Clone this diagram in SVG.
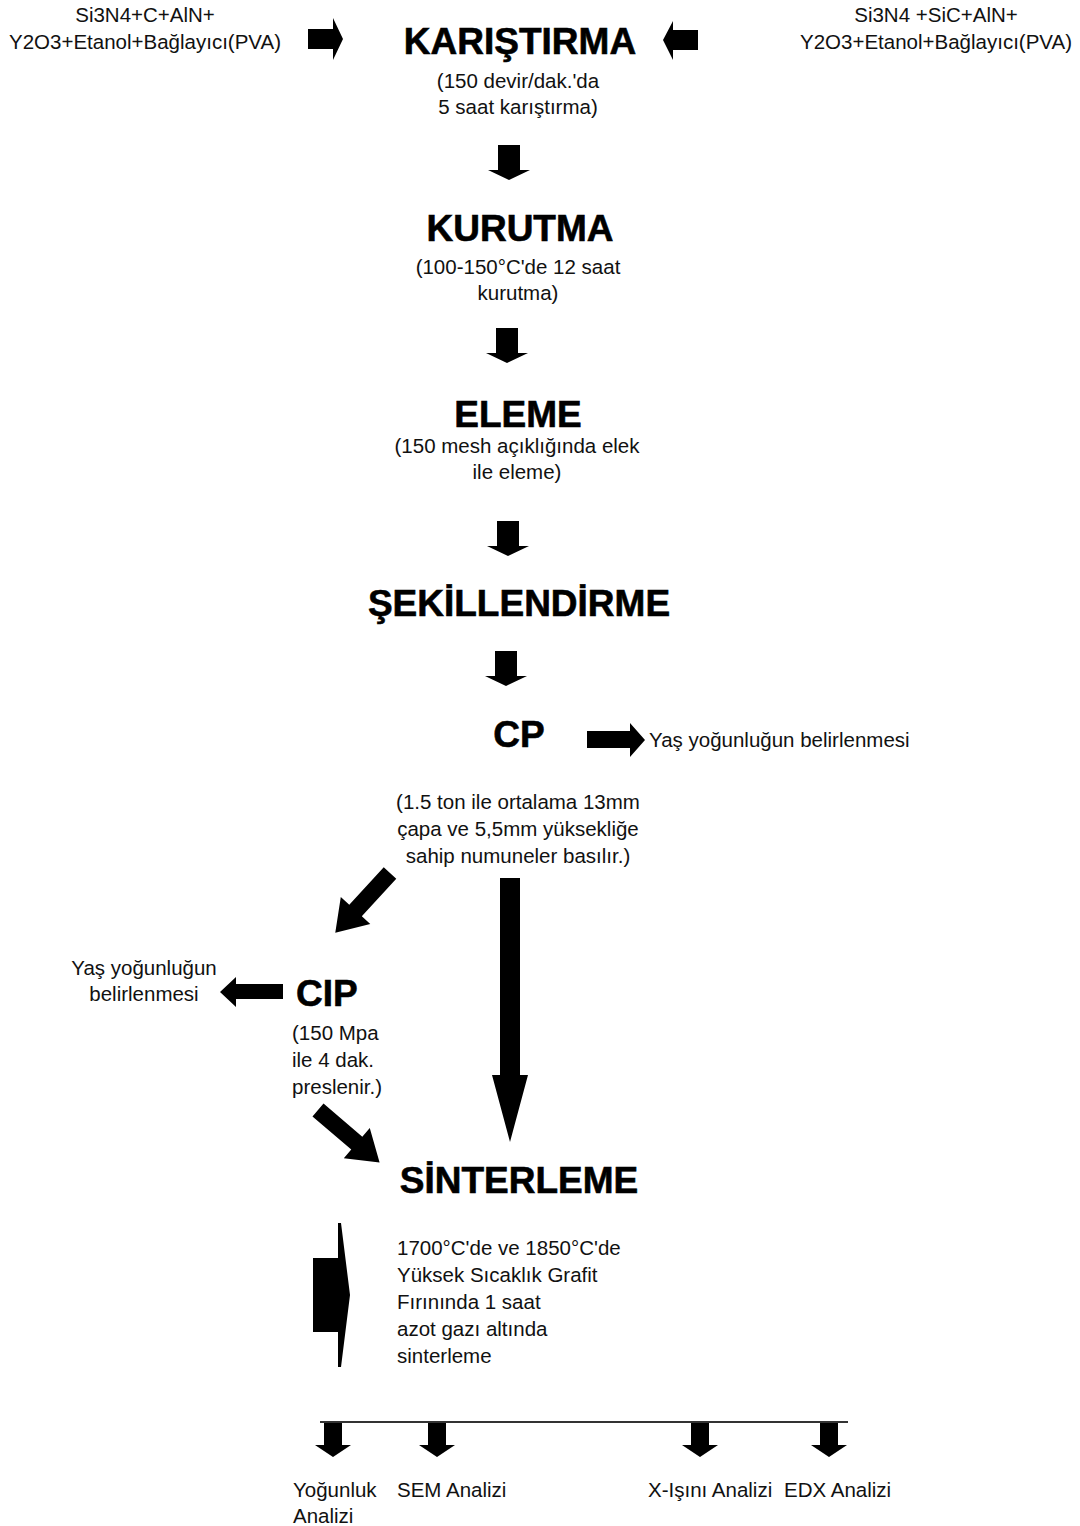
<svg xmlns="http://www.w3.org/2000/svg" xmlns:xlink="http://www.w3.org/1999/xlink" width="1080" height="1526" viewBox="0 0 1080 1526">
<style>
.t{font-family:"Liberation Sans",Arial,sans-serif;font-size:20.5px;fill:#111}
.h{font-family:"Liberation Sans",Arial,sans-serif;font-size:37px;font-weight:bold;fill:#000;stroke:#000;stroke-width:0.6px}
.m{text-anchor:middle}
.a{fill:#000}
</style>
<defs>
<path id="down" d="M-11,0 H11 V25 H21 L0,35 L-21,25 H-11 Z"/>
<path id="down2" d="M-9,0 H9 V22 H18 L0,34 L-18,22 H-9 Z"/>
<path id="diag" d="M0,-8.5 H51 V-20 L81,0 L51,20 V8.5 H0 Z"/>
</defs>
<rect width="1080" height="1526" fill="#fff"/>

<g id="input-left">
<text class="t m" x="145" y="22">Si3N4+C+AlN+</text>
<text class="t m" x="145" y="49">Y2O3+Etanol+Bağlayıcı(PVA)</text>
</g>
<g id="input-right">
<text class="t m" x="936" y="22">Si3N4 +SiC+AlN+</text>
<text class="t m" x="936" y="49">Y2O3+Etanol+Bağlayıcı(PVA)</text>
</g>
<g id="karistirma">
<text class="h m" x="520" y="54">KARIŞTIRMA</text>
<text class="t m" x="518" y="88">(150 devir/dak.'da</text>
<text class="t m" x="518" y="114">5 saat karıştırma)</text>
</g>
<g id="kurutma">
<text class="h m" x="520" y="241">KURUTMA</text>
<text class="t m" x="518" y="274">(100-150°C'de 12 saat</text>
<text class="t m" x="518" y="300">kurutma)</text>
</g>
<g id="eleme">
<text class="h m" x="518" y="427">ELEME</text>
<text class="t m" x="517" y="453">(150 mesh açıklığında elek</text>
<text class="t m" x="517" y="479">ile eleme)</text>
</g>
<g id="sekillendirme">
<text class="h m" x="519" y="616">ŞEKİLLENDİRME</text>
</g>
<g id="cp">
<text class="h m" x="519" y="747">CP</text>
<text class="t m" x="518" y="809">(1.5 ton ile ortalama 13mm</text>
<text class="t m" x="518" y="836">çapa ve 5,5mm yüksekliğe</text>
<text class="t m" x="518" y="863">sahip numuneler basılır.)</text>
</g>
<g id="cp-density">
<text class="t" x="649" y="747">Yaş yoğunluğun belirlenmesi</text>
</g>
<g id="cip">
<text class="h" x="296" y="1006">CIP</text>
<text class="t" x="292" y="1040">(150 Mpa</text>
<text class="t" x="292" y="1067">ile 4 dak.</text>
<text class="t" x="292" y="1094">preslenir.)</text>
</g>
<g id="cip-density">
<text class="t m" x="144" y="975">Yaş yoğunluğun</text>
<text class="t m" x="144" y="1001">belirlenmesi</text>
</g>
<g id="sinterleme">
<text class="h m" x="519" y="1193">SİNTERLEME</text>
<text class="t" x="397" y="1255">1700°C'de ve 1850°C'de</text>
<text class="t" x="397" y="1282">Yüksek Sıcaklık Grafit</text>
<text class="t" x="397" y="1309">Fırınında 1 saat</text>
<text class="t" x="397" y="1336">azot gazı altında</text>
<text class="t" x="397" y="1363">sinterleme</text>
</g>
<g id="analyses">
<text class="t" x="293" y="1497">Yoğunluk</text>
<text class="t" x="293" y="1523">Analizi</text>
<text class="t" x="397" y="1497">SEM Analizi</text>
<text class="t" x="648" y="1497">X-Işını Analizi</text>
<text class="t" x="784" y="1497">EDX Analizi</text>
</g>

<g id="connectors" class="a">
<path d="M308,29 H333 V18 L343,39 L333,60 V49 H308 Z"/>
<path d="M698,30 H673 V21 L663,40 L673,60 V50 H698 Z"/>
<use xlink:href="#down" x="509" y="145"/>
<use xlink:href="#down" x="507" y="328"/>
<use xlink:href="#down" x="508" y="521"/>
<use xlink:href="#down" x="506" y="651"/>
<path d="M587,731 H630 V723 L645,740 L630,757 V748 H587 Z"/>
<use xlink:href="#diag" transform="translate(390,873) rotate(132.5)"/>
<path d="M283,984 H236 V977 L220,992 L236,1007 V999 H283 Z"/>
<path d="M500,878 H520 V1075 H528 L510,1142 L492,1075 H500 Z"/>
<use xlink:href="#diag" transform="translate(318,1110) rotate(40.5)"/>
<path d="M313,1258 H338 V1223 L341,1223 L350,1295 L341,1367 L338,1367 V1332 H313 Z"/>
<line x1="320" y1="1422" x2="848" y2="1422" stroke="#333" stroke-width="2"/>
<use xlink:href="#down2" x="333" y="1423"/>
<use xlink:href="#down2" x="437" y="1423"/>
<use xlink:href="#down2" x="700" y="1423"/>
<use xlink:href="#down2" x="829" y="1423"/>
</g>
</svg>
